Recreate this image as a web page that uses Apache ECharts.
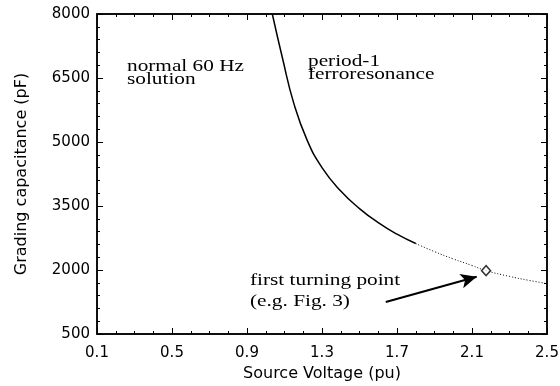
<!DOCTYPE html>
<html>
<head>
<meta charset="utf-8">
<script src="https://cdn.jsdelivr.net/npm/echarts@6/dist/echarts.min.js"></script>
<style>
  html, body { margin: 0; background: #fff; }
  #main { width: 560px; height: 386px; }
</style>
</head>
<body>
<div id="main"></div>
<script>
// solid part of the curve (period-1 boundary)
const voltSolid = [1.035, 1.09, 1.15, 1.22, 1.30, 1.40, 1.50, 1.60, 1.70, 1.80];
const capSolid = [8000, 6950, 5900, 5050, 4400, 3850, 3440, 3110, 2840, 2620];
// dotted continuation
const voltDotted = [1.80, 1.90, 2.00, 2.10, 2.175, 2.30, 2.40, 2.49];
const capDotted = [2620, 2430, 2260, 2105, 1985, 1850, 1760, 1690];
// first turning point and the arrow pointing at it
const turningPoint = [2.175, 1985];
const arrowFrom = [1.64, 1250];
const arrowTo = [2.125, 1840];

const zip = (a, b) => a.map((v, i) => [v, b[i]]);

const axisCommon = {
  type: 'value',
  axisLine: { show: true, onZero: false, lineStyle: { color: '#000', width: 1.5 } },
  axisTick: { show: true, inside: true, length: 6, lineStyle: { color: '#000', width: 1 } },
  splitLine: { show: false }
};
const minor = n => ({ show: true, splitNumber: n, length: 3, lineStyle: { color: '#000', width: 1 } });
const labelFont = { color: '#000', fontFamily: 'DejaVu Sans', fontSize: 15 };
const serifText = (text, lh) => ({
  text: text, fontFamily: 'Liberation Serif', fontSize: 16, lineHeight: lh,
  fill: '#000', verticalAlign: 'top'
});

const option = {
  animation: false,
  backgroundColor: '#fff',
  grid: { left: 97, right: 13, top: 14, bottom: 52, outerBoundsMode: 'none', containLabel: false },
  xAxis: [
    { ...axisCommon, min: 0.1, max: 2.5, interval: 0.4, minorTick: minor(4),
      axisLabel: { ...labelFont, margin: 12 },
      name: 'Source Voltage (pu)', nameLocation: 'middle', nameGap: 32,
      nameTextStyle: { ...labelFont, fontSize: 16 } },
    { ...axisCommon, min: 0.1, max: 2.5, interval: 0.4, position: 'top', minorTick: minor(4),
      axisLabel: { show: false } }
  ],
  yAxis: [
    { ...axisCommon, min: 500, max: 8000, interval: 1500, minorTick: minor(5),
      axisLabel: { ...labelFont, margin: 7, formatter: v => String(v) } },
    { ...axisCommon, min: 500, max: 8000, interval: 1500, position: 'right', minorTick: minor(5),
      axisLabel: { show: false } }
  ],
  graphic: [
    // plot frame, in case the axis lines are not drawn
    { type: 'rect', shape: { x: 97, y: 14, width: 450, height: 320 }, silent: true, z: 100,
      style: { fill: 'none', stroke: '#000', lineWidth: 1.5 } },
    { type: 'text', x: 22, y: 174, rotation: Math.PI / 2,
      style: { text: 'Grading capacitance (pF)', fontFamily: 'DejaVu Sans', fontSize: 16,
        fill: '#000', align: 'center', verticalAlign: 'middle' } },
    { type: 'text', x: 127, y: 60, scaleX: 1.33, style: serifText('normal 60 Hz\nsolution', 13) },
    { type: 'text', x: 308, y: 55, scaleX: 1.33, style: serifText('period-1\nferroresonance', 13) },
    { type: 'text', x: 250, y: 270, scaleX: 1.33, style: serifText('first turning point\n(e.g. Fig. 3)', 21) }
  ],
  series: [
    {
      type: 'line',
      data: zip(voltSolid, capSolid),
      smooth: true,
      symbol: 'none',
      lineStyle: { color: '#000', width: 1.5 }
    },
    {
      type: 'line',
      data: zip(voltDotted, capDotted),
      smooth: true,
      symbol: 'none',
      lineStyle: { color: '#000', width: 1, type: [1, 2] },
      markLine: {
        silent: true,
        symbol: ['none', 'arrow'],
        symbolSize: [11, 16],
        label: { show: false },
        lineStyle: { color: '#000', width: 2, type: 'solid' },
        data: [[{ coord: arrowFrom }, { coord: arrowTo }]]
      }
    },
    {
      type: 'scatter',
      data: [turningPoint],
      symbol: 'diamond',
      symbolSize: [9, 10],
      itemStyle: { color: '#fff', borderColor: '#000', borderWidth: 1.5 },
      z: 5
    }
  ]
};

const myChart = echarts.init(document.getElementById('main'));
myChart.setOption(option);
</script>
</body>
</html>
